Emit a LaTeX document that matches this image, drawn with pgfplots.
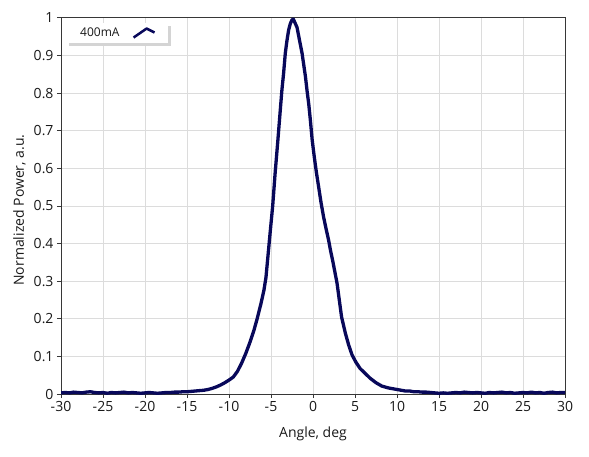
\documentclass[border=0pt]{standalone}
\usepackage{fontspec}
\setmainfont{Open Sans}
\usepackage{pgfplots}
\pgfplotsset{compat=1.18}

\definecolor{curve}{RGB}{8,8,90}
\definecolor{gridgray}{RGB}{220,220,220}
\definecolor{axisgray}{RGB}{55,55,55}
\definecolor{txt}{RGB}{25,25,25}
\definecolor{shadowgray}{RGB}{212,212,212}

\begin{document}
\begin{tikzpicture}[font=\fontsize{14bp}{16bp}\selectfont]
\begin{axis}[
  scale only axis, width=504bp, height=376bp,
  xmin=-30, xmax=30, ymin=0, ymax=1,
  xtick={-30,-25,-20,-15,-10,-5,0,5,10,15,20,25,30},
  ytick={0,0.1,0.2,0.3,0.4,0.5,0.6,0.7,0.8,0.9,1},
  /pgf/number format/assume math mode=true,
  /pgf/number format/fixed,
  ticklabel style={txt},
  grid=major, major grid style={gridgray, line width=1bp},
  axis line style={axisgray, line width=1bp},
  tick style={axisgray, line width=1bp},
  tick align=outside, major tick length=4bp,
  xtick pos=lower, ytick pos=left,
  xlabel={Angle, deg},
  ylabel={Normalized Power, a.u.},
  xlabel style={txt, at={(axis description cs:0.5,0)}, anchor=base, yshift=-43bp},
  ylabel style={txt, at={(axis description cs:0,0.5)}, anchor=base, yshift=37bp, xshift=-4bp},
  legend plot pos=right,
  legend style={name=leg, at={(axis description cs:0.01,0.986)}, anchor=north west,
    draw=none, fill=white, text=txt, font=\fontsize{12bp}{14bp}\selectfont,
    inner xsep=12bp, inner ysep=2.5bp},
  legend image code/.code={\path[draw=none, fill=none] (0bp,0bp) -- (33bp,0bp);
    \draw[#1, line width=2.5bp] (12bp,-4.5bp) -- (25bp,4.5bp) -- (33bp,0.5bp);},
]
\addplot[curve, line width=3.3bp, line join=round] coordinates {
(-30,0.003) (-29.5,0.004) (-29,0.003) (-28.5,0.005) (-28,0.004) (-27.5,0.003)
(-27,0.005) (-26.5,0.006) (-26,0.004) (-25.5,0.003) (-25,0.004) (-24.5,0.002)
(-24,0.004) (-23.5,0.003) (-23,0.004) (-22.5,0.005) (-22,0.003) (-21.5,0.004)
(-21,0.003) (-20.5,0.002) (-20,0.003) (-19.5,0.004) (-19,0.003) (-18.5,0.002)
(-18,0.003) (-17.5,0.004) (-17,0.004) (-16.5,0.005) (-16,0.005) (-15.5,0.006)
(-15,0.006) (-14.5,0.007) (-14,0.008) (-13.5,0.009) (-13,0.010) (-12.5,0.012)
(-12,0.015) (-11.5,0.019) (-11,0.024) (-10.5,0.030) (-10,0.037) (-9.5,0.045)
(-9,0.060) (-8.5,0.082) (-8,0.108) (-7.5,0.138) (-7.05,0.168) (-6.65,0.200)
(-6.2,0.240) (-5.85,0.275) (-5.6,0.310) (-5.35,0.370) (-5.1,0.430) (-4.8,0.500)
(-4.5,0.590) (-4.2,0.670) (-3.95,0.740) (-3.7,0.809) (-3.5,0.853) (-3.3,0.906)
(-3.1,0.940) (-2.9,0.968) (-2.7,0.985) (-2.5,0.995) (-2.35,0.997) (-2.2,0.990)
(-2.0,0.980) (-1.9,0.975) (-1.6,0.940) (-1.3,0.906) (-1.1,0.875) (-0.9,0.844)
(-0.7,0.805) (-0.5,0.770) (-0.3,0.725) (-0.1,0.676) (0.15,0.631) (0.4,0.590)
(0.67,0.551) (0.95,0.510) (1.25,0.472) (1.55,0.440) (1.85,0.410) (2.1,0.380)
(2.35,0.354) (2.6,0.325) (2.86,0.295) (3.1,0.255) (3.4,0.205) (3.85,0.162)
(4.25,0.130) (4.65,0.104) (5.1,0.085) (5.6,0.068) (6.2,0.055) (6.8,0.042)
(7.5,0.030) (8.2,0.021) (9,0.016) (10,0.012) (10.5,0.010) (11,0.008)
(11.5,0.008) (12,0.006) (12.5,0.006) (13,0.005) (13.5,0.005) (14,0.004)
(14.5,0.003) (15,0.002) (15.5,0.003) (16,0.002) (16.5,0.003) (17,0.004)
(17.5,0.003) (18,0.005) (18.5,0.004) (19,0.003) (19.5,0.004) (20,0.003)
(20.5,0.002) (21,0.004) (21.5,0.003) (22,0.004) (22.5,0.005) (23,0.003)
(23.5,0.004) (24,0.002) (24.5,0.003) (25,0.004) (25.5,0.003) (26,0.005)
(26.5,0.003) (27,0.004) (27.5,0.002) (28,0.004) (28.5,0.005) (29,0.003)
(29.5,0.004) (30,0.004)
};
\addlegendentry{400mA}
\end{axis}
% shadow strips along the right and lower edge of the legend box
\fill[shadowgray] ([yshift=-3bp]leg.north east) rectangle ([xshift=3bp,yshift=-3bp]leg.south east);
\fill[shadowgray] ([xshift=3bp]leg.south west) rectangle ([xshift=3bp,yshift=-3bp]leg.south east);
\pgfresetboundingbox
\path ([xshift=-61bp,yshift=-62bp]current axis.south west) rectangle ([xshift=24bp,yshift=18bp]current axis.north east);
\end{tikzpicture}
\end{document}
